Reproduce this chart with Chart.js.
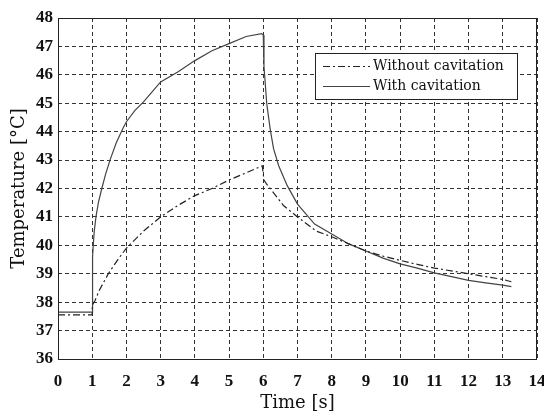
<!DOCTYPE html>
<html>
<head>
<meta charset="utf-8">
<script src="https://cdn.jsdelivr.net/npm/chart.js@4/dist/chart.umd.min.js"></script>
<style>
html,body{margin:0;padding:0;background:#fff;}
#wrap{width:544px;height:414px;position:relative;}
</style>
</head>
<body>
<div id="wrap"><canvas id="c" width="544" height="414"></canvas></div>
<script>
// ---- data ----
const seriesLabels = ['Without cavitation', 'With cavitation'];

const withoutTime = [0, 1.0, 1.0, 1.08, 1.2, 1.47, 1.75, 2.0, 2.5, 3.0, 3.5, 4.0, 4.5, 5.0, 5.5, 5.97,
  6.02, 6.1, 6.3, 6.59, 7.0, 7.55, 8.0, 8.5, 9.0, 9.5, 10.0, 10.5, 11.0, 11.5, 12.0, 12.5, 13.0, 13.25];
const withoutTemp = [37.55, 37.55, 37.9, 38.05, 38.4, 39.0, 39.5, 39.9, 40.5, 41.0, 41.4, 41.75, 42.0, 42.3, 42.55, 42.8,
  42.3, 42.15, 41.85, 41.4, 41.0, 40.5, 40.3, 40.05, 39.8, 39.62, 39.47, 39.33, 39.2, 39.1, 39.0, 38.9, 38.8, 38.72];

const withTime = [0, 1.0, 1.01, 1.03, 1.06, 1.11, 1.18, 1.28, 1.39, 1.52, 1.7, 1.91, 2.0, 2.25, 2.5, 2.75, 3.0, 3.5, 4.0,
  4.5, 5.0, 5.5, 5.95, 6.0, 6.02, 6.1, 6.2, 6.3, 6.45, 6.7, 7.0, 7.5, 8.0, 8.5, 9.0, 9.5, 10.0, 10.5, 11.0, 11.5,
  12.0, 12.5, 13.0, 13.25];
const withTemp = [37.65, 37.65, 39.6, 40.0, 40.5, 41.0, 41.5, 42.0, 42.5, 43.0, 43.6, 44.15, 44.35, 44.75, 45.05, 45.4, 45.75, 46.1, 46.5,
  46.85, 47.1, 47.35, 47.45, 47.4, 46.3, 45.0, 44.1, 43.4, 42.8, 42.1, 41.45, 40.75, 40.4, 40.05, 39.8, 39.55, 39.35, 39.2, 39.03, 38.9,
  38.77, 38.68, 38.6, 38.55];

const xTickValues = [0,1,2,3,4,5,6,7,8,9,10,11,12,13,14];
const yTickValues = [36,37,38,39,40,41,42,43,44,45,46,47,48];
const xTitle = 'Time [s]';
const yTitle = 'Temperature [°C]';

// ---- build ----
const toPoints = (xs, ys) => xs.map((x, i) => ({x: x, y: ys[i]}));

const frameAndLegend = {
  id: 'frameAndLegend',
  afterDraw(chart) {
    const {ctx, chartArea: a} = chart;
    ctx.save();
    ctx.strokeStyle = '#222';
    ctx.lineWidth = 1;
    ctx.setLineDash([]);
    ctx.strokeRect(Math.round(a.left) + 0.5, Math.round(a.top) + 0.5,
                   Math.round(a.right - a.left) - 1, Math.round(a.bottom - a.top));
    // legend box
    const bx = 315, by = 53, bw = 202, bh = 46;
    ctx.fillStyle = '#fff';
    ctx.fillRect(bx, by, bw, bh);
    ctx.strokeRect(bx + 0.5, by + 0.5, bw, bh);
    const rows = [66, 86];
    chart.data.datasets.forEach((ds, i) => {
      const y = rows[i] + 0.5;
      ctx.strokeStyle = ds.borderColor;
      ctx.lineWidth = ds.borderWidth;
      ctx.setLineDash(ds.borderDash || []);
      ctx.beginPath();
      ctx.moveTo(323, y);
      ctx.lineTo(370, y);
      ctx.stroke();
      ctx.setLineDash([]);
      ctx.fillStyle = '#111';
      ctx.font = '14px "DejaVu Serif"';
      ctx.textBaseline = 'middle';
      ctx.textAlign = 'left';
      ctx.fillText(ds.label, 373, rows[i] + 0.5);
    });
    ctx.restore();
  }
};

const gridCommon = {color: '#333', lineWidth: 1, drawTicks: false};

new Chart(document.getElementById('c'), {
  type: 'line',
  data: {
    datasets: [
      {label: seriesLabels[0], data: toPoints(withoutTime, withoutTemp), borderColor: '#222',
       borderWidth: 1.2, borderDash: [7, 3, 2, 3], pointRadius: 0, tension: 0, fill: false},
      {label: seriesLabels[1], data: toPoints(withTime, withTemp), borderColor: '#444',
       borderWidth: 1.2, pointRadius: 0, tension: 0, fill: false}
    ]
  },
  options: {
    responsive: false,
    animation: false,
    devicePixelRatio: 1,
    layout: {padding: {top: 18, right: 7, left: 0, bottom: 0}},
    plugins: {legend: {display: false}, tooltip: {enabled: false}},
    scales: {
      x: {
        type: 'linear', min: 0, max: 14,
        afterBuildTicks: (s) => { s.ticks = xTickValues.map(v => ({value: v})); },
        afterFit: (s) => { s.height = 55; s.paddingLeft = 0; s.paddingRight = 0; },
        ticks: {autoSkip: false, maxRotation: 0, padding: 12, color: '#111',
                font: {family: '"Liberation Serif"', size: 17, weight: 'bold'}},
        grid: gridCommon,
        border: {display: false, dash: [4, 3]},
        title: {display: true, text: xTitle, color: '#111', padding: {top: 0, bottom: 0},
                font: {family: '"DejaVu Serif"', size: 18}}
      },
      y: {
        type: 'linear', min: 36, max: 48,
        afterBuildTicks: (s) => { s.ticks = yTickValues.map(v => ({value: v})); },
        afterFit: (s) => { s.width = 58; s.paddingTop = 0; s.paddingBottom = 0; },
        ticks: {autoSkip: false, padding: 5, color: '#111',
                font: {family: '"Liberation Serif"', size: 17, weight: 'bold'}},
        grid: gridCommon,
        border: {display: false, dash: [4, 3]},
        title: {display: true, text: yTitle, color: '#111', padding: {top: 9, bottom: 0},
                font: {family: '"DejaVu Serif"', size: 18}}
      }
    }
  },
  plugins: [frameAndLegend]
});
</script>
</body>
</html>
